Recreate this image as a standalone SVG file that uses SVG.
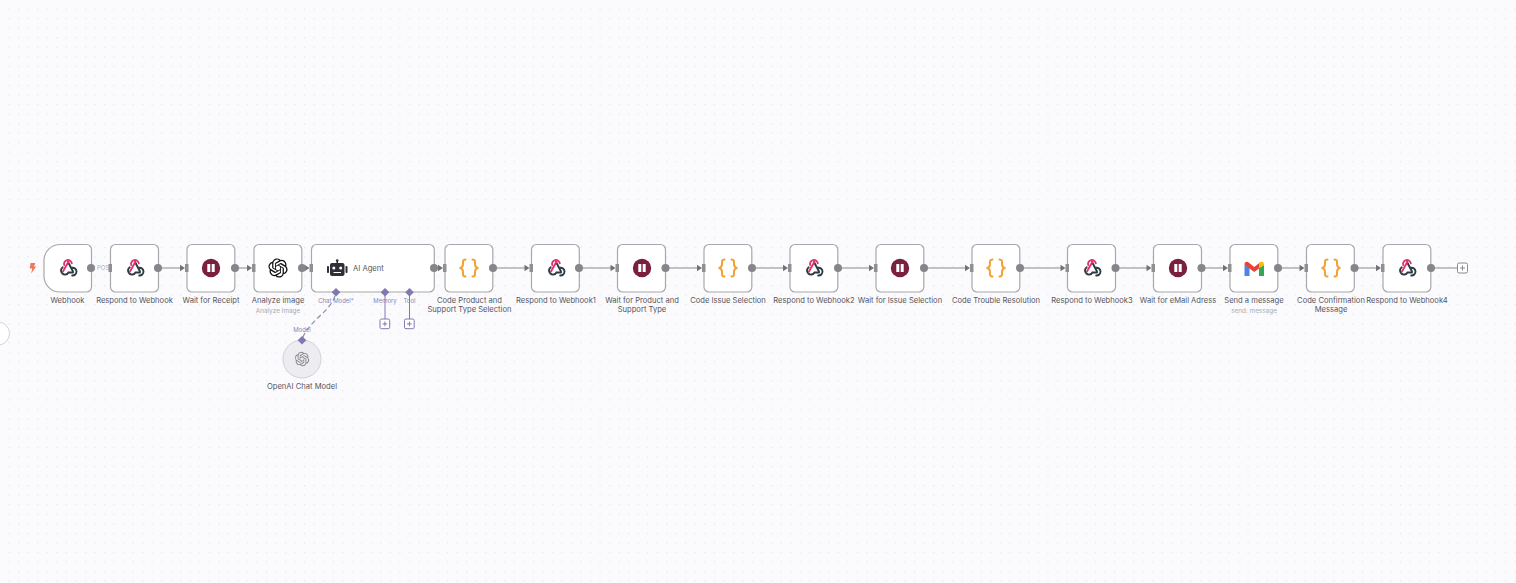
<svg xmlns="http://www.w3.org/2000/svg" width="1516" height="583" viewBox="0 0 1516 583">
<defs>
<pattern id="dots" width="9.53" height="9.53" patternUnits="userSpaceOnUse" x="8.6" y="8.6"><circle cx="0.7" cy="0.7" r="0.6" fill="#dcdde4"/></pattern>
<g id="hook" fill="none" stroke-width="1.9" stroke-linecap="round">
<path d="M-5.300,0.300 A4,4 0 1 0 0.500,5.500 H5" stroke="#2b3a42"/>
<path d="M3.800,0.800 A3.900,3.900 0 1 1 4.200,8.500" stroke="#2b3a42"/>
<path d="M0,-5 L5,4.500" stroke="#2b3a42"/>
<path d="M-3.800,-2 A3.900,3.900 0 1 1 3.800,-3.700" stroke="#e0346f"/>
<path d="M0.300,-5 L-5,4.500" stroke="#e0346f"/>
</g>
<g id="pause"><circle r="9.200" fill="#7a1f3d"/><rect x="-3.700" y="-4" width="3" height="8" rx="0.600" fill="#fff"/><rect x="0.700" y="-4" width="3" height="8" rx="0.600" fill="#fff"/></g>
<g id="code" fill="none" stroke="#f5a033" stroke-width="2" stroke-linecap="round" stroke-linejoin="round"><path d="M-3.500,-8.500 C-6.500,-8.500 -6,-6.500 -6,-4 C-6,-2 -6.500,-0.500 -8.800,0 C-6.500,0.500 -6,2 -6,4 C-6,6.500 -6.500,8.500 -3.500,8.500"/><path d="M3.500,-8.500 C6.500,-8.500 6,-6.500 6,-4 C6,-2 6.500,-0.500 8.800,0 C6.500,0.500 6,2 6,4 C6,6.500 6.500,8.500 3.500,8.500"/></g>
<path id="oai" transform="translate(-12 -12)" d="M22.2819 9.8211a5.9847 5.9847 0 0 0-.5157-4.9108 6.0462 6.0462 0 0 0-6.5098-2.9A6.0651 6.0651 0 0 0 4.9807 4.1818a5.9847 5.9847 0 0 0-3.9977 2.9 6.0462 6.0462 0 0 0 .7427 7.0966 5.98 5.98 0 0 0 .511 4.9107 6.051 6.051 0 0 0 6.5146 2.9001A5.9847 5.9847 0 0 0 13.2599 24a6.0557 6.0557 0 0 0 5.7718-4.2058 5.9894 5.9894 0 0 0 3.9977-2.9001 6.0557 6.0557 0 0 0-.7475-7.0729zm-9.022 12.6081a4.4755 4.4755 0 0 1-2.8764-1.0408l.1419-.0804 4.7783-2.7582a.7948.7948 0 0 0 .3927-.6813v-6.7369l2.02 1.1686a.071.071 0 0 1 .038.052v5.5826a4.504 4.504 0 0 1-4.4945 4.4944zm-9.6607-4.1254a4.4708 4.4708 0 0 1-.5346-3.0137l.142.0852 4.783 2.7582a.7712.7712 0 0 0 .7806 0l5.8428-3.3685v2.3324a.0804.0804 0 0 1-.0332.0615L9.74 19.9502a4.4992 4.4992 0 0 1-6.1408-1.6464zM2.3408 7.8956a4.485 4.485 0 0 1 2.3655-1.9728V11.6a.7664.7664 0 0 0 .3879.6765l5.8144 3.3543-2.0201 1.1685a.0757.0757 0 0 1-.071 0l-4.8303-2.7865A4.504 4.504 0 0 1 2.3408 7.872zm16.5963 3.8558L13.1038 8.364 15.1192 7.2a.0757.0757 0 0 1 .071 0l4.8303 2.7913a4.4944 4.4944 0 0 1-.6765 8.1042v-5.6772a.79.79 0 0 0-.407-.667zm2.0107-3.0231l-.142-.0852-4.7735-2.7818a.7759.7759 0 0 0-.7854 0L9.409 9.2297V6.8974a.0662.0662 0 0 1 .0284-.0615l4.8303-2.7866a4.4992 4.4992 0 0 1 6.6802 4.66zM8.3065 12.863l-2.02-1.1638a.0804.0804 0 0 1-.038-.0567V6.0742a4.4992 4.4992 0 0 1 7.3757-3.4537l-.142.0805L8.704 5.459a.7948.7948 0 0 0-.3927.6813zm1.0976-2.3654l2.602-1.4998 2.6069 1.4998v2.9994l-2.5974 1.4997-2.6067-1.4997Z"/>
<path id="arr" d="M-5,-3.300 L0,0 L-5,3.300 Z" fill="#727276"/>
</defs>
<style>
.n{fill:#fff;stroke:#a8a8ac;stroke-width:1.2}
.c{fill:none;stroke:#8a8a8a;stroke-width:1.2}
.o{fill:#85858a}
.i{fill:#8f8f94}
.l{font-family:Inter,"Liberation Sans",sans-serif;font-size:7.6px;fill:#55555f;text-anchor:middle}
.s{font-family:Inter,"Liberation Sans",sans-serif;font-size:6.4px;fill:#a9a9b2;text-anchor:middle}
.p{font-family:Inter,"Liberation Sans",sans-serif;font-size:6px;fill:#8a84b8;text-anchor:middle}
.d{fill:#8078b0}
.pl{fill:#fff;stroke:#8078b0;stroke-width:1}
.pg{stroke:#8078b0;stroke-width:1;fill:none}
</style>
<rect width="1516" height="583" fill="#fbfbfd"/>
<rect width="1516" height="583" fill="url(#dots)"/>
<circle cx="-2" cy="333.500" r="11.500" fill="#fff" stroke="#d4d4d8"/>
<g id="connectors">
<text x="97" y="270.300" font-family="Inter,'Liberation Sans',sans-serif" font-size="6" fill="#b0b0b8">POST</text>
<path class="c" d="M158,268H183M235,268H250M302,268H307M434,268H441M493,268H528M579,268H614M666,268H700M752,268H786M838,268H872M924,268H968M1020,268H1064M1116,268H1150M1202,268H1226M1278,268H1303M1355,268H1380M1431,268H1457"/>
<use href="#arr" x="185" y="268"/><use href="#arr" x="252" y="268"/><use href="#arr" x="309.500" y="268"/><use href="#arr" x="443" y="268"/><use href="#arr" x="529.500" y="268"/><use href="#arr" x="615.500" y="268"/><use href="#arr" x="702" y="268"/><use href="#arr" x="788" y="268"/><use href="#arr" x="874" y="268"/><use href="#arr" x="970" y="268"/><use href="#arr" x="1065.500" y="268"/><use href="#arr" x="1151.500" y="268"/><use href="#arr" x="1228" y="268"/><use href="#arr" x="1304.500" y="268"/><use href="#arr" x="1381" y="268"/>
<path d="M335,296 C330,312 307,322 302,340" fill="none" stroke="#9090a0" stroke-width="1.200" stroke-dasharray="5 3"/>
<path class="pg" d="M385,292V319M409.500,292V319" stroke-width="1.300"/>
</g>
<g id="trigger"><path d="M30.500,263h4.800l-1.300,3.500h2.200l-5,7 1,-5h-2.400z" fill="#f0785a"/></g>
<g id="webhook"><path class="n" d="M60,244.500H86.500a5,5 0 0 1 5,5V287a5,5 0 0 1 -5,5H60A16,16 0 0 1 44,276V260.500A16,16 0 0 1 60,244.500Z"/><use href="#hook" x="68" y="267"/><circle class="o" cx="91" cy="268" r="4"/><text class="l" x="67.500" y="303">Webhook</text></g>
<g id="respond"><rect class="n" x="110.500" y="244.500" width="48" height="47.500" rx="5"/><use href="#hook" x="135" y="267"/><circle class="o" cx="158" cy="268" r="4"/><rect class="i" x="108.500" y="264" width="3.500" height="8"/><text class="l" x="134.500" y="303">Respond to Webhook</text></g>
<g id="wait-receipt"><rect class="n" x="187" y="244.500" width="47.800" height="47.500" rx="5"/><use href="#pause" x="211" y="268"/><circle class="o" cx="235" cy="268" r="4"/><rect class="i" x="185" y="264" width="3.500" height="8"/><text class="l" x="211" y="303">Wait for Receipt</text></g>
<g id="analyze"><rect class="n" x="254" y="244.500" width="47.800" height="47.500" rx="5"/><use href="#oai" transform="translate(278 268) scale(.8)" fill="#111"/><circle class="o" cx="302" cy="268" r="4"/><rect class="i" x="252" y="264" width="3.500" height="8"/><text class="l" x="278" y="303">Analyze image</text><text class="s" x="278" y="313">Analyze Image</text></g>
<g id="agent"><rect class="n" x="311.500" y="244.500" width="122.800" height="47.500" rx="5"/><g fill="#2f2f37"><rect x="330" y="263" width="14.500" height="13" rx="2"/><rect x="327" y="266" width="2" height="7" rx=".8"/><rect x="345.500" y="266" width="2" height="7" rx=".8"/><rect x="336.500" y="260" width="1.500" height="4"/><circle cx="337.200" cy="260.500" r="1.300"/></g><circle cx="333.800" cy="268" r="1.500" fill="#fff"/><circle cx="340.700" cy="268" r="1.500" fill="#fff"/><rect x="333.500" y="272" width="7.500" height="1" fill="#fff"/><circle class="o" cx="434" cy="268" r="4"/><rect class="i" x="309.500" y="264" width="3.500" height="8"/><text class="l" x="353" y="271" style="text-anchor:start">AI Agent</text>
<path class="d" d="M336,288l4.300,4.300-4.300,4.300-4.300,-4.300zM385,288l4.300,4.300-4.300,4.300-4.300,-4.300zM409.500,288l4.300,4.300-4.300,4.300-4.300,-4.300z"/>
<text class="p" x="336" y="303">Chat Model*</text><text class="p" x="385" y="303">Memory</text><text class="p" x="409.500" y="303">Tool</text>
<rect class="pl" x="380" y="319" width="9.700" height="9.700" rx="1.500"/><path class="pg" d="M382.500,323.900h4.700M384.900,321.500v4.700"/><rect class="pl" x="404.500" y="319" width="9.700" height="9.700" rx="1.500"/><path class="pg" d="M407,323.900h4.700M409.400,321.500v4.700"/></g>
<g id="openai-model"><circle cx="302" cy="359" r="19" fill="#ececf1" stroke="#d0d0d8"/><use href="#oai" transform="translate(302 359) scale(.6)" fill="#85858a"/><path class="d" d="M302,336l4.300,4.300-4.300,4.300-4.300,-4.300z"/><text class="p" x="302" y="332">Model</text><text class="l" x="302" y="389">OpenAI Chat Model</text></g>
<g id="code-product"><rect class="n" x="445" y="244.500" width="47.800" height="47.500" rx="5"/><use href="#code" x="469" y="268"/><circle class="o" cx="493" cy="268" r="4"/><rect class="i" x="443" y="264" width="3.500" height="8"/><text class="l" x="469.500" y="303">Code Product and</text><text class="l" x="469.500" y="312">Support Type Selection</text></g>
<g id="respond1"><rect class="n" x="531.500" y="244.500" width="47.800" height="47.500" rx="5"/><use href="#hook" x="556" y="267"/><circle class="o" cx="579" cy="268" r="4"/><rect class="i" x="529.500" y="264" width="3.500" height="8"/><text class="l" x="556" y="303">Respond to Webhook1</text></g>
<g id="wait-product"><rect class="n" x="617.500" y="244.500" width="48" height="47.500" rx="5"/><use href="#pause" x="642" y="268"/><circle class="o" cx="665.500" cy="268" r="4"/><rect class="i" x="615.500" y="264" width="3.500" height="8"/><text class="l" x="642" y="303">Wait for Product and</text><text class="l" x="642" y="312">Support Type</text></g>
<g id="code-issue"><rect class="n" x="704" y="244.500" width="47.800" height="47.500" rx="5"/><use href="#code" x="728" y="268"/><circle class="o" cx="752" cy="268" r="4"/><rect class="i" x="702" y="264" width="3.500" height="8"/><text class="l" x="728" y="303">Code Issue Selection</text></g>
<g id="respond2"><rect class="n" x="790" y="244.500" width="47.800" height="47.500" rx="5"/><use href="#hook" x="814" y="267"/><circle class="o" cx="838" cy="268" r="4"/><rect class="i" x="788" y="264" width="3.500" height="8"/><text class="l" x="814" y="303">Respond to Webhook2</text></g>
<g id="wait-issue"><rect class="n" x="876" y="244.500" width="47.800" height="47.500" rx="5"/><use href="#pause" x="900" y="268"/><circle class="o" cx="924" cy="268" r="4"/><rect class="i" x="874" y="264" width="3.500" height="8"/><text class="l" x="900" y="303">Wait for Issue Selection</text></g>
<g id="code-trouble"><rect class="n" x="972" y="244.500" width="47.800" height="47.500" rx="5"/><use href="#code" x="996" y="268"/><circle class="o" cx="1020" cy="268" r="4"/><rect class="i" x="970" y="264" width="3.500" height="8"/><text class="l" x="996" y="303">Code Trouble Resolution</text></g>
<g id="respond3"><rect class="n" x="1067.500" y="244.500" width="48" height="47.500" rx="5"/><use href="#hook" x="1092" y="267"/><circle class="o" cx="1115.500" cy="268" r="4"/><rect class="i" x="1065.500" y="264" width="3.500" height="8"/><text class="l" x="1092" y="303">Respond to Webhook3</text></g>
<g id="wait-email"><rect class="n" x="1153.500" y="244.500" width="48" height="47.500" rx="5"/><use href="#pause" x="1178" y="268"/><circle class="o" cx="1201.500" cy="268" r="4"/><rect class="i" x="1151.500" y="264" width="3.500" height="8"/><text class="l" x="1178" y="303">Wait for eMail Adress</text></g>
<g id="gmail"><rect class="n" x="1230" y="244.500" width="47.800" height="47.500" rx="5"/><path d="M1244.500,265V276H1249.500V268Z" fill="#4a86e8"/><path d="M1259,268V276H1264V265Z" fill="#34a853"/><path d="M1244.500,265Q1244.500,261 1248,262L1254.300,267L1260.500,262L1259,268.500L1254.300,272L1244.500,265Z" fill="#ea4335"/><path d="M1259,268V263L1260.500,262Q1264,260.500 1264,265Z" fill="#fbbc05"/><circle class="o" cx="1278" cy="268" r="4"/><rect class="i" x="1228" y="264" width="3.500" height="8"/><text class="l" x="1254" y="303">Send a message</text><text class="s" x="1254" y="313">send: message</text></g>
<g id="code-confirm"><rect class="n" x="1306.500" y="244.500" width="47.800" height="47.500" rx="5"/><use href="#code" x="1331" y="268"/><circle class="o" cx="1354.500" cy="268" r="4"/><rect class="i" x="1304.500" y="264" width="3.500" height="8"/><text class="l" x="1331" y="303">Code Confirmation</text><text class="l" x="1331" y="312">Message</text></g>
<g id="respond4"><rect class="n" x="1383" y="244.500" width="47.800" height="47.500" rx="5"/><use href="#hook" x="1407" y="267"/><circle class="o" cx="1431" cy="268" r="4"/><rect class="i" x="1381" y="264" width="3.500" height="8"/><text class="l" x="1407" y="303">Respond to Webhook4</text><rect x="1457.500" y="263" width="10" height="10" rx="1.500" fill="#fff" stroke="#8a8a8a"/><path d="M1460,268h5M1462.500,265.500v5" stroke="#8a8a8a"/></g>
</svg>
